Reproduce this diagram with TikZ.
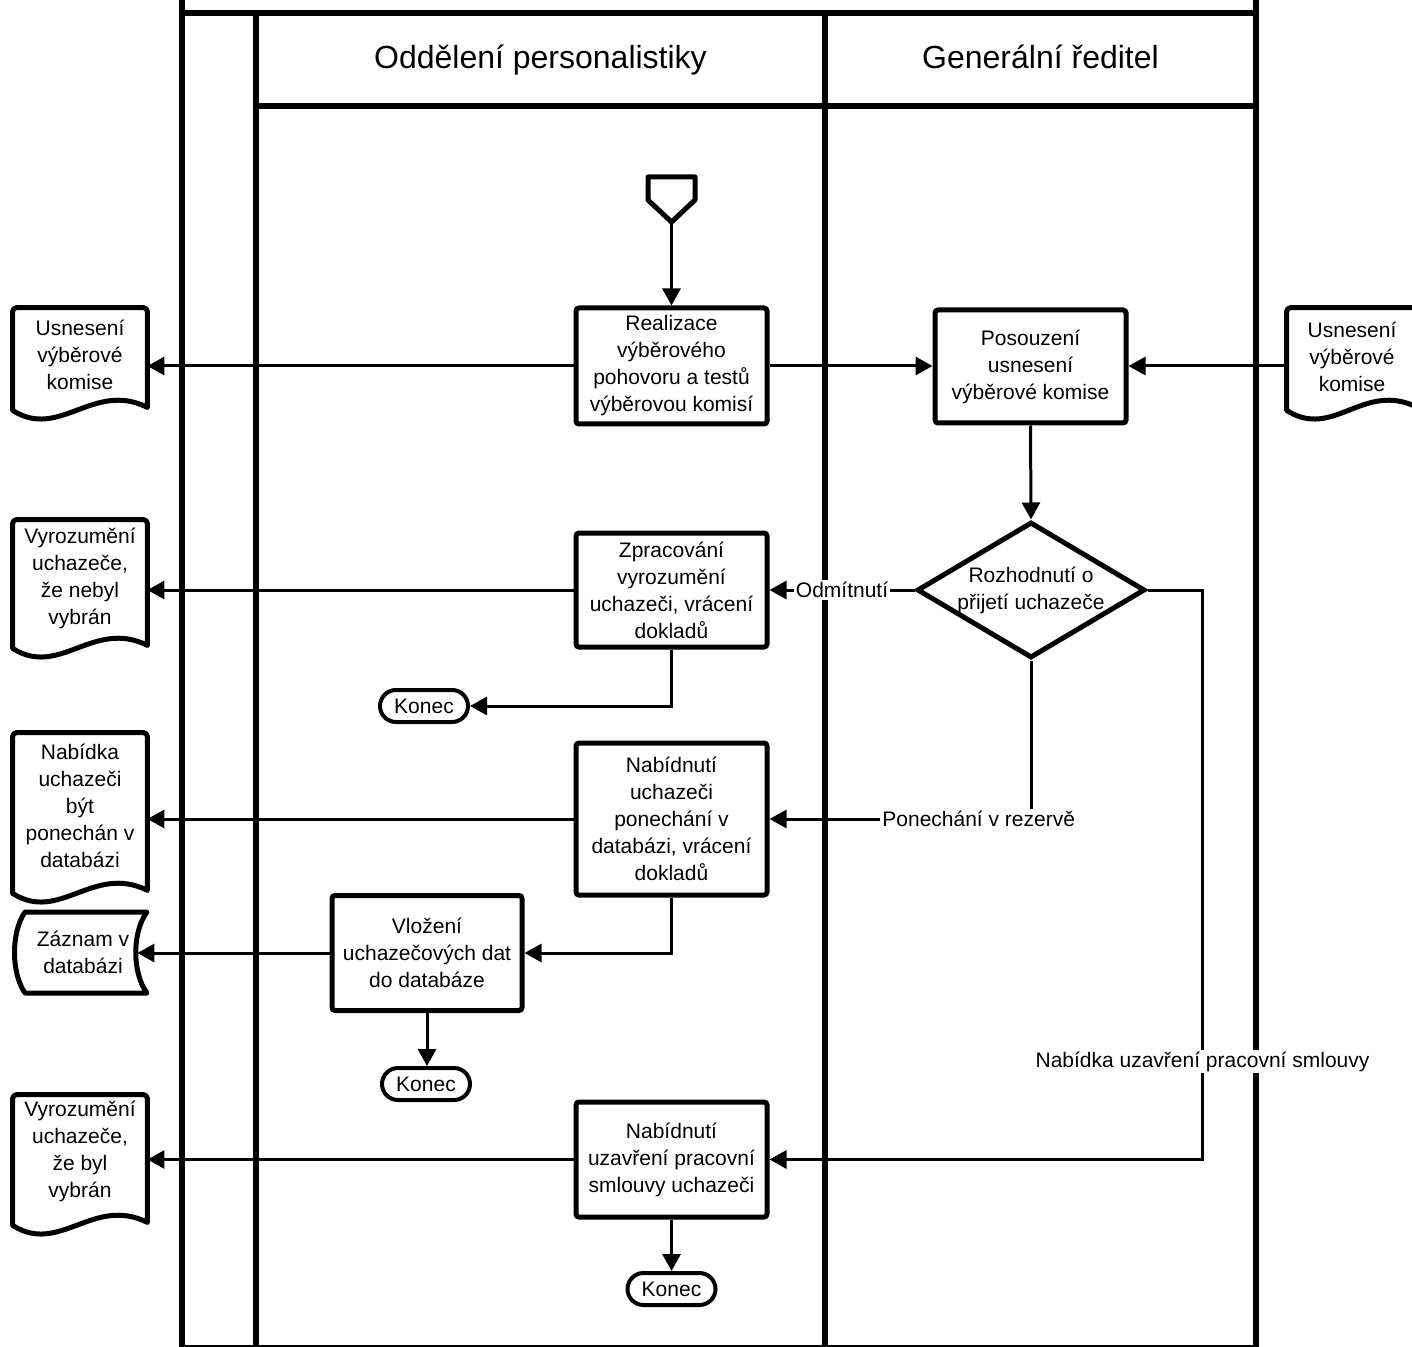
\documentclass[tikz,border=0pt]{standalone}
\usepackage{fontspec}
\setmainfont{Liberation Sans}
\usetikzlibrary{arrows.meta,shapes.geometric}
\newcommand\myBody{\fontsize{10.5}{13.5}\selectfont}
\newcommand\myHead{\fontsize{16}{19}\selectfont}
\begin{document}
\begin{tikzpicture}[x=0.5pt,y=-0.5pt,
  lane/.style={line width=2.8pt},
  proc/.style={draw,fill=white,line width=2.5pt,rounded corners=1.5pt,minimum width=95.5pt,align=center,font=\myBody,inner sep=1pt},
  decision/.style={diamond,draw,fill=white,line width=2.5pt,minimum width=114pt,minimum height=68pt,inner sep=0pt},
  term/.style={draw,fill=white,line width=2pt,rounded corners=8pt,minimum width=44pt,minimum height=16pt,inner sep=0pt,font=\myBody},
  docbox/.style={minimum width=67pt,inner sep=0pt},
  doctext/.style={align=center,font=\myBody,inner sep=0pt},
  docborder/.style={line width=2.5pt,line join=round},
  conn/.style={line width=1.5pt,-{Triangle[length=8.5pt,width=9pt]}},
  lbl/.style={fill=white,inner sep=1pt,font=\myBody},
  head/.style={font=\myHead,anchor=base}
]
\useasboundingbox (0,0) rectangle (1412,1347);
\clip (0,0) rectangle (1412,1347);

% pool and lanes
\draw[lane] (182,0) -- (182,1347);
\draw[lane] (1256,0) -- (1256,1347);
\draw[lane] (182,13) -- (1256,13);
\draw[lane] (256,13) -- (256,1347);
\draw[lane] (825,13) -- (825,1347);
\draw[lane] (256,106) -- (1256,106);
\draw[line width=1.5pt] (182,1346.5) -- (1256,1346.5);
\node[head] (h1) at (540.5,69) {Oddělení personalistiky};
\node[head] (h2) at (1040.5,69) {Generální ředitel};

% start
\draw[line width=2.5pt,line join=round] (648,177) -- (695,177) -- (695,200) -- (671.5,222) -- (648,200) -- cycle;
\coordinate (start) at (671.5,222);

% processes
\node[proc,minimum height=58pt] (real) at (671.5,366) {Realizace\\výběrového\\pohovoru a testů\\výběrovou komisí};
\node[proc,minimum height=56.5pt] (pos) at (1030.5,366.5) {Posouzení\\usnesení\\výběrové komise};
\node[decision] (dec) at (1031,590) {};
\node[doctext] (dect) at (dec.center) {Rozhodnutí o\\přijetí uchazeče};
\node[proc,minimum height=57pt] (zpr) at (671.5,590) {Zpracování\\vyrozumění\\uchazeči, vrácení\\dokladů};
\node[proc,minimum height=76pt] (nab) at (671.5,819) {Nabídnutí\\uchazeči\\ponechání v\\databázi, vrácení\\dokladů};
\node[proc,minimum height=57.5pt,minimum width=95pt] (vlo) at (427,953) {Vložení\\uchazečových dat\\do databáze};
\node[proc,minimum height=57.5pt] (nab2) at (671.5,1159.5) {Nabídnutí\\uzavření pracovní\\smlouvy uchazeči};

% terminators
\node[term] (k1) at (424,706) {Konec};
\node[term] (k2) at (426,1084) {Konec};
\node[term] (k3) at (671.5,1289) {Konec};

% documents
\node[docbox,minimum height=51pt] (d1) at (80,359) {};
\node[docbox,minimum height=64pt] (d2) at (80,584) {};
\node[docbox,minimum height=80pt] (d3) at (80,813) {};
\node[docbox,minimum height=65pt] (d4) at (80,1160) {};
\node[docbox,minimum width=65pt,minimum height=51pt] (rd) at (1352,359) {};
\foreach \d in {d1,d2,d3,d4,rd}{
  \draw[docborder] ([yshift=1.5pt]\d.south east) [rounded corners=2pt] -- (\d.north east) -- (\d.north west) [sharp corners] -- (\d.south west)
    .. controls +(47,30) and +(-54,-27) .. ([yshift=1.5pt]\d.south east) -- cycle;
}
\node[doctext] (d1t) at ([yshift=2pt]d1.center) {Usnesení\\výběrové\\komise};
\node[doctext] (d2t) at ([yshift=3pt]d2.center) {Vyrozumění\\uchazeče,\\že nebyl\\vybrán};
\node[doctext] (d3t) at ([yshift=3.5pt]d3.center) {Nabídka\\uchazeči\\být\\ponechán v\\databázi};
\node[doctext] (d4t) at ([yshift=4.5pt]d4.center) {Vyrozumění\\uchazeče,\\že byl\\vybrán};
\node[doctext] (rdt) at ([yshift=1pt]rd.center) {Usnesení\\výběrové\\komise};

% stored data
\node[minimum width=56pt,minimum height=40.5pt,inner sep=0pt] (zaz) at (81,953) {};
\draw[docborder] (25,912) -- (147,912) .. controls (132,932) and (132,973) .. (147,993) -- (25,993) .. controls (11,973) and (11,932) .. (25,912) -- cycle;
\node[doctext] (zazt) at (83,952.5) {Záznam v\\databázi};

% connectors
\draw[conn] (start) -- (real.north);
\draw[conn] (real.west) -- (real.west -| d1.east);
\draw[conn] (real.east) -- (real.east -| pos.west);
\draw[conn] (rd.west |- real.east) -- (real.east -| pos.east);
\draw[conn] (pos.south) -- (dec.north);
\draw[conn] (dec.west) -- node[lbl,pos=0.5] {Odmítnutí} (zpr.east);
\draw[conn] (zpr.west) -- (zpr.west -| d2.east);
\draw[conn] (zpr.south) |- (k1.east);
\draw[conn] (dec.south) |- node[lbl,pos=0.6] {Ponechání v rezervě} (nab.east);
\draw[conn] (nab.west) -- (nab.west -| d3.east);
\draw[conn] (nab.south) |- (vlo.east);
\draw[conn] (vlo.west) -- (vlo.west -| zaz.east);
\draw[conn] (vlo.south) -- (vlo.south |- k2.north);
\draw[conn] (dec.east) -- ([xshift=27.5pt]dec.east) |- node[lbl,pos=0.414] {Nabídka uzavření pracovní smlouvy} (nab2.east);
\draw[conn] (nab2.west) -- (nab2.west -| d4.east);
\draw[conn] (nab2.south) -- (k3.north);
\end{tikzpicture}
\end{document}
